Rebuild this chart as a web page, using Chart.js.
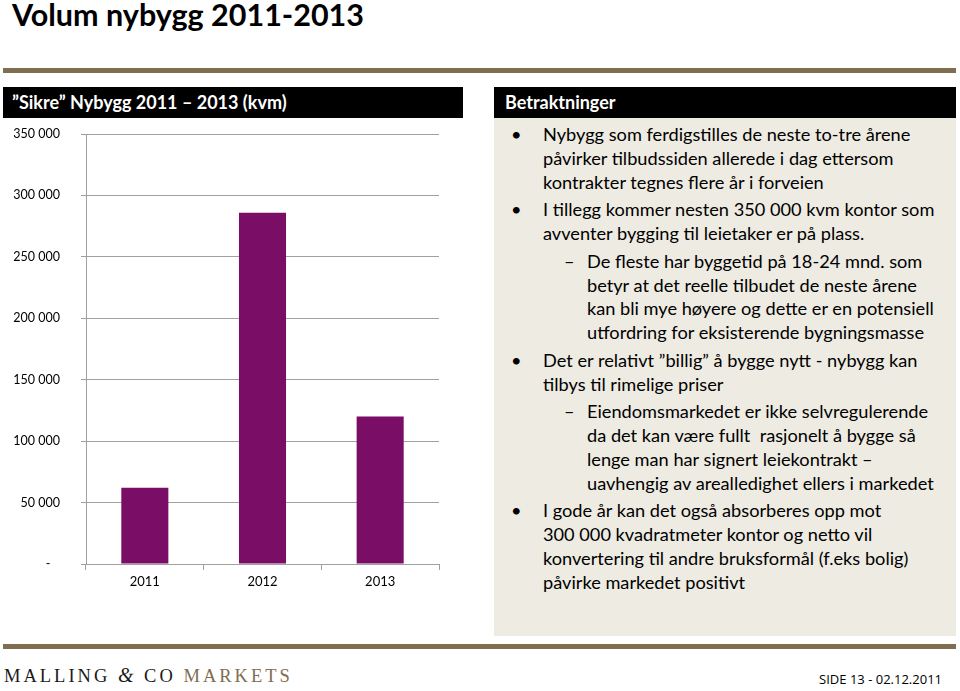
<!DOCTYPE html>
<html>
<head>
<meta charset="utf-8">
<script src="https://cdn.jsdelivr.net/npm/chart.js@4/dist/chart.umd.min.js"></script>
<style>
  html,body{margin:0;padding:0;background:#fff;}
  body{width:960px;height:691px;position:relative;overflow:hidden;font-family:Lato,"Open Sans",sans-serif;color:#000;}
  .title{position:absolute;left:12px;top:-4px;font-size:30.5px;font-weight:bold;white-space:nowrap;}
  .rule{position:absolute;left:3px;width:953px;height:5px;background:#7f6e50;}
  .hdr{position:absolute;top:87px;height:31px;background:#000;color:#fff;font-size:18px;font-weight:bold;line-height:31px;white-space:nowrap;}
  .panel{position:absolute;left:494px;top:118px;width:462px;height:518px;background:#eeebe2;}
  .body{position:absolute;left:0;top:5px;width:462px;font-size:18.2px;line-height:23.75px;}
  .p{position:relative;margin-top:4px;white-space:nowrap;}
  .p:first-child{margin-top:0}
  .b{padding-left:49px;}
  .d{padding-left:93px;}
  .b::before{content:"•";position:absolute;left:17px;top:0;}
  .d::before{content:"–";position:absolute;left:70px;top:0;}
  #wrap{position:absolute;left:0;top:118px;width:480px;height:480px;}
  .logo{position:absolute;left:4px;top:664px;font-family:"Liberation Serif","DejaVu Serif",serif;font-size:18.5px;letter-spacing:3px;white-space:nowrap;color:#1a1a1a;}
  .logo i{font-size:20px;}
  .logo span{color:#7f6e50;}
  .side{position:absolute;right:18px;top:670px;font-family:"Liberation Sans Narrow","Open Sans",sans-serif;font-size:13px;white-space:nowrap;}
</style>
</head>
<body>
<div class="title">Volum nybygg 2011-2013</div>
<div class="rule" style="top:68px"></div>
<div class="hdr" style="left:3px;width:460px;padding-left:9px;box-sizing:border-box;">”Sikre” Nybygg 2011 – 2013 (kvm)</div>
<div class="hdr" style="left:494px;width:462px;padding-left:11px;box-sizing:border-box;">Betraktninger</div>
<div class="panel">
  <div class="body">
    <div class="p b">Nybygg som ferdigstilles de neste to-tre årene<br>påvirker tilbudssiden allerede i dag ettersom<br>kontrakter tegnes flere år i forveien</div>
    <div class="p b">I tillegg kommer nesten 350 000 kvm kontor som<br>avventer bygging til leietaker er på plass.</div>
    <div class="p d">De fleste har byggetid på 18-24 mnd. som<br>betyr at det reelle tilbudet de neste årene<br>kan bli mye høyere og dette er en potensiell<br>utfordring for eksisterende bygningsmasse</div>
    <div class="p b">Det er relativt ”billig” å bygge nytt - nybygg kan<br>tilbys til rimelige priser</div>
    <div class="p d">Eiendomsmarkedet er ikke selvregulerende<br>da det kan være fullt&nbsp; rasjonelt å bygge så<br>lenge man har signert leiekontrakt –<br>uavhengig av arealledighet ellers i markedet</div>
    <div class="p b">I gode år kan det også absorberes opp mot<br>300 000 kvadratmeter kontor og netto vil<br>konvertering til andre bruksformål (f.eks bolig)<br>påvirke markedet positivt</div>
  </div>
</div>
<div id="wrap"><canvas id="c" width="480" height="480"></canvas></div>
<div class="rule" style="top:644px"></div>
<div class="logo">MALLING <i>&amp;</i> CO <span>MARKETS</span></div>
<div class="side">SIDE 13 - 02.12.2011</div>
<script>
const categories = ['2011', '2012', '2013'];
const volumes = [62000, 286000, 120000];
const yMin = 0;
const yMax = 350000;
const yStep = 50000;

function fmt(v) {
  if (v === 0) return '-   ';
  return String(v).replace(/\B(?=(\d{3})+(?!\d))/g, ' ');
}

new Chart(document.getElementById('c'), {
  type: 'bar',
  data: {
    labels: categories,
    datasets: [{
      data: volumes,
      backgroundColor: '#7a0e66',
      borderWidth: 0,
      barPercentage: 0.4,
      categoryPercentage: 1.0
    }]
  },
  options: {
    responsive: false,
    animation: false,
    layout: { padding: { left: 0, right: 41, top: 16, bottom: 4 } },
    plugins: { legend: { display: false }, tooltip: { enabled: false }, title: { display: false } },
    scales: {
      x: {
        afterFit: s => { s.height = 30; },
        grid: { drawOnChartArea: false, drawTicks: true, tickLength: 6, color: '#a0a0a0', offset: true },
        border: { display: true, color: '#a0a0a0', width: 1 },
        ticks: { color: '#000', padding: 4, font: { family: 'Lato', size: 13 } }
      },
      y: {
        min: yMin, max: yMax,
        afterFit: s => { s.width = 86; s.paddingTop = 0; s.paddingBottom = 0; },
        grid: { color: '#a0a0a0', tickLength: 5, lineWidth: 1 },
        border: { display: true, color: '#a0a0a0', width: 1 },
        ticks: { stepSize: yStep, color: '#000', padding: 21, font: { family: 'Lato', size: 12.5 }, callback: v => fmt(v) }
      }
    }
  }
});
</script>
</body>
</html>
